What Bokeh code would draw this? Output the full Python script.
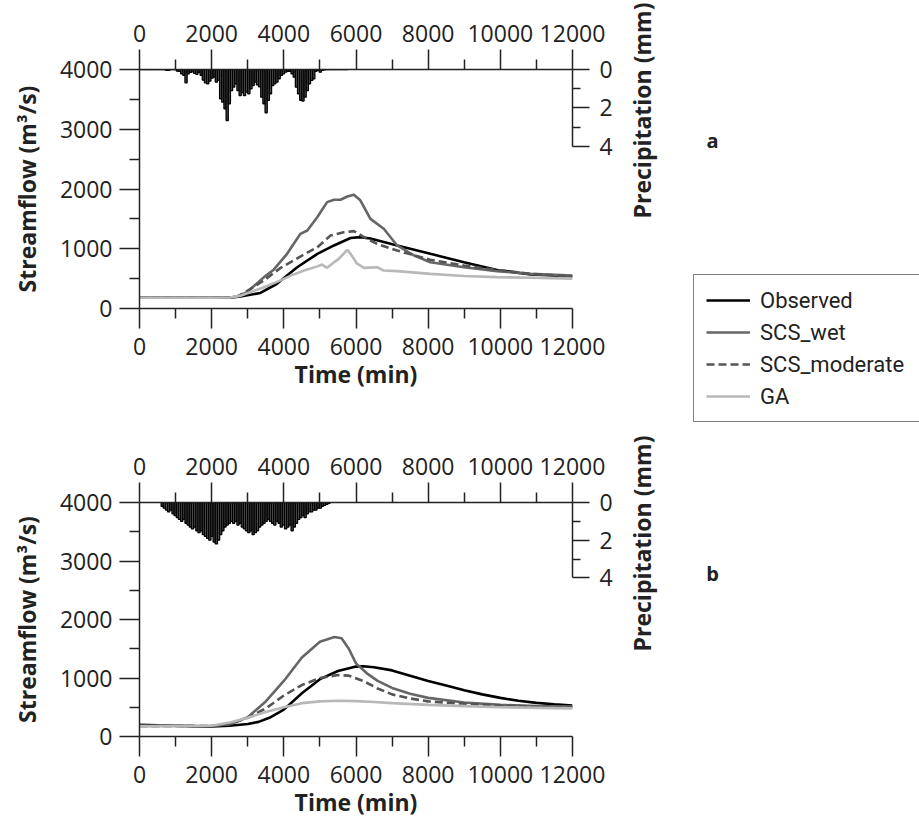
import math
from bokeh.plotting import figure
from bokeh.models import Range1d, LinearAxis, FixedTicker, Legend, LegendItem, Label
from bokeh.layouts import column, row
from bokeh.embed import file_html
from bokeh.resources import INLINE

# ---------------- data ----------------
x_ticks = [0, 2000, 4000, 6000, 8000, 10000, 12000]
x_minor = [1000, 3000, 5000, 7000, 9000, 11000]
q_ticks = [0, 1000, 2000, 3000, 4000]
q_minor = [500, 1500, 2500, 3500]
p_ticks = [0, 2, 4]
p_minor = [1, 3]
series_names = ["Observed", "SCS_wet", "SCS_moderate", "GA"]
panel_letters = ["a", "b"]

# Panel a hydrographs (time in min, flow in m3/s)
obs_a_t = [0, 1000, 2000, 2500, 2800, 3350, 3800, 4370, 4930, 5390, 5850, 6120, 6400, 7140, 8060, 8990, 9910, 10840, 12000]
obs_a_q = [180, 180, 180, 182, 200, 260, 410, 690, 915, 1055, 1180, 1195, 1172, 1055, 915, 775, 645, 570, 540]
wet_a_t = [0, 1000, 2000, 2500, 2700, 2980, 3450, 3720, 4090, 4460, 4650, 4930, 5200, 5390, 5570, 5760, 5940, 6120, 6400, 6770, 7140, 7600, 8060, 8990, 9910, 10840, 12000]
wet_a_q = [180, 180, 180, 185, 200, 275, 525, 650, 915, 1250, 1305, 1530, 1780, 1820, 1820, 1875, 1905, 1810, 1500, 1335, 1055, 890, 775, 690, 625, 580, 550]
mod_a_t = [0, 1000, 2000, 2500, 2700, 2890, 3450, 3910, 4560, 4930, 5290, 5660, 5940, 6220, 6590, 7140, 8060, 8990, 9910, 10840, 12000]
mod_a_q = [180, 180, 180, 185, 200, 255, 470, 680, 905, 1025, 1220, 1275, 1295, 1195, 1080, 970, 815, 720, 645, 580, 535]
ga_a_t = [0, 1000, 2000, 2500, 2800, 3450, 3910, 4190, 4560, 4930, 5060, 5200, 5340, 5520, 5760, 5850, 6030, 6220, 6590, 6770, 7140, 8060, 8990, 9910, 10840, 12000]
ga_a_q = [180, 180, 180, 185, 215, 355, 470, 550, 635, 705, 735, 680, 750, 830, 980, 915, 750, 680, 690, 635, 625, 580, 545, 525, 515, 500]

# Panel b hydrographs
obs_b_t = [0, 500, 1000, 1500, 2000, 2500, 3000, 3300, 3600, 4000, 4500, 5000, 5500, 6000, 6200, 6500, 7000, 7500, 8000, 8500, 9000, 9500, 10000, 10500, 11000, 11500, 12000]
obs_b_q = [200, 190, 185, 178, 172, 185, 215, 250, 320, 460, 740, 980, 1120, 1195, 1200, 1185, 1130, 1040, 950, 870, 790, 720, 660, 610, 575, 550, 530]
wet_b_t = [0, 2000, 2500, 3000, 3500, 4000, 4500, 5000, 5400, 5600, 5800, 6000, 6300, 6600, 7000, 7500, 8000, 9000, 10000, 11000, 12000]
wet_b_q = [180, 180, 210, 330, 600, 950, 1350, 1620, 1700, 1680, 1500, 1250, 1080, 950, 830, 730, 660, 580, 540, 520, 510]
mod_b_t = [0, 2000, 2500, 3000, 3500, 4000, 4500, 5000, 5500, 5800, 6200, 6600, 7000, 7500, 8000, 9000, 10000, 11000, 12000]
mod_b_q = [180, 180, 210, 320, 480, 700, 880, 1000, 1050, 1040, 950, 820, 720, 650, 600, 560, 530, 510, 500]
ga_b_t = [0, 2000, 2500, 3000, 3500, 4000, 4500, 5000, 5500, 6000, 6500, 7000, 8000, 9000, 10000, 11000, 12000]
ga_b_q = [180, 185, 240, 320, 420, 500, 570, 600, 610, 605, 590, 570, 540, 520, 500, 490, 480]

# Hourly precipitation (mm), bar centres every 60 min
precip_a_t = list(range(30, 5760, 60))
precip_a = [0, 0, 0, 0, 0, 0, 0, 0, 0, 0,
            0, 0, 0.05, 0.05, 0, 0, 0, 0.08, 0.1,
            0.22, 0.3, 0.69, 0.22,
            0.15, 0.12, 0.2, 0.25, 0.15,
            0.3, 0.55, 0.7, 0.74, 0.6,
            0.45, 0.4, 0.65, 0.55,
            1.52, 1.7, 2.04, 2.65, 1.78, 1.1,
            0.92, 0.74, 1.1, 1.35,
            1.2, 1.35,
            1.18, 1.26, 1.0, 0.83, 0.66,
            0.8, 0.9,
            1.44, 1.78, 2.25, 1.6,
            1.26, 0.83, 0.74, 0.66,
            0.48, 0.31, 0.22, 0.14, 0.09,
            0.09, 0.22, 0.4,
            0.92, 1.26, 1.6, 1.64, 1.44,
            1.1, 0.74, 0.57, 0.48,
            0.09, 0.05, 0.14, 0.05, 0.02,
            0, 0, 0, 0, 0, 0, 0, 0, 0, 0]
precip_b_t = list(range(630, 5310, 60))
precip_b = [0.2, 0.3, 0.4, 0.5, 0.4, 0.6, 0.7,
            0.8, 0.9, 1.0, 0.9, 1.1, 1.2, 1.3,
            1.4, 1.3, 1.5, 1.6, 1.5, 1.7, 1.8,
            1.9, 2.0, 1.8, 2.1, 2.2, 2.0,
            1.7, 1.5, 1.3, 1.2, 1.1, 1.0,
            1.1, 1.0, 1.2, 1.1, 1.3, 1.4,
            1.5, 1.6, 1.5, 1.7, 1.6, 1.5,
            1.3, 1.2, 1.1, 1.0, 0.9, 1.0,
            1.1, 1.2, 1.0, 1.1, 1.3, 1.2,
            1.4, 1.3, 1.2, 1.5, 1.3, 1.1,
            0.9, 0.8, 0.7, 0.8, 0.6, 0.5,
            0.5, 0.4, 0.4, 0.3, 0.3, 0.2,
            0.15, 0.1, 0.05]

# ---------------- styles ----------------
FONT = "Open Sans"
AX = "#222222"
styles = {
    "Observed": dict(line_color="#000000", line_width=2.6),
    "SCS_wet": dict(line_color="#666666", line_width=2.6),
    "SCS_moderate": dict(line_color="#555555", line_width=2.6, line_dash="8 4"),
    "GA": dict(line_color="#b8b8b8", line_width=2.6),
}


def style_axis(ax, ticks, minor, major_out=20, minor_out=10):
    ax.ticker = FixedTicker(ticks=ticks, minor_ticks=minor)
    ax.axis_line_color = AX
    ax.axis_line_width = 1.5
    ax.major_tick_line_color = AX
    ax.major_tick_line_width = 1.5
    ax.minor_tick_line_color = AX
    ax.minor_tick_line_width = 1.5
    ax.major_tick_in = 0
    ax.major_tick_out = major_out
    ax.minor_tick_in = 0
    ax.minor_tick_out = minor_out
    ax.major_label_text_font = FONT
    ax.major_label_text_font_size = "23px"
    ax.major_label_text_color = AX
    ax.axis_label_text_font = FONT
    ax.axis_label_text_font_size = "23px"
    ax.axis_label_text_font_style = "bold"
    ax.axis_label_text_color = AX


def make_panel(height, bottom, curves, ptime, pvals):
    p = figure(width=620, height=height, x_range=Range1d(0, 12000), y_range=Range1d(0, 4000),
               output_backend="svg", toolbar_location=None,
               min_border_left=139, min_border_right=48, min_border_top=69, min_border_bottom=bottom)
    p.outline_line_color = None
    p.xgrid.visible = False
    p.ygrid.visible = False
    p.extra_y_ranges = {"p": Range1d(start=12.4156, end=0)}

    xb = p.xaxis[0]
    style_axis(xb, x_ticks, x_minor)
    xb.axis_label = "Time (min)"
    xb.major_label_standoff = 9
    xb.axis_label_standoff = 0

    yl = p.yaxis[0]
    style_axis(yl, q_ticks, q_minor)
    yl.axis_label = "Streamflow (m³/s)"
    yl.major_label_standoff = 7
    yl.axis_label_standoff = 14

    xt = LinearAxis()
    style_axis(xt, x_ticks, x_minor)
    xt.major_label_standoff = 8
    p.add_layout(xt, "above")

    yr = LinearAxis(y_range_name="p", bounds=(0, 4))
    style_axis(yr, p_ticks, p_minor, major_out=17, minor_out=8)
    yr.major_label_standoff = 10
    p.add_layout(yr, "right")

    # precipitation bars hanging from the top
    p.vbar(x=ptime, width=60, top=[0] * len(pvals), bottom=pvals, y_range_name="p",
           fill_color="#555555", line_color="black", line_width=1.3)

    for name, (t, q) in curves.items():
        p.line(t, q, **styles[name])
    return p


fa = make_panel(433, 125,
                {"Observed": (obs_a_t, obs_a_q), "SCS_wet": (wet_a_t, wet_a_q),
                 "SCS_moderate": (mod_a_t, mod_a_q), "GA": (ga_a_t, ga_a_q)},
                precip_a_t, precip_a)
fb = make_panel(387, 79,
                {"Observed": (obs_b_t, obs_b_q), "SCS_wet": (wet_b_t, wet_b_q),
                 "SCS_moderate": (mod_b_t, mod_b_q), "GA": (ga_b_t, ga_b_q)},
                precip_b_t, precip_b)

# right-hand strip: precipitation titles, panel letters and the legend (pixel coordinates)
side = figure(width=299, height=820, x_range=Range1d(0, 299), y_range=Range1d(0, 820),
              output_backend="svg", toolbar_location=None, x_axis_location=None, y_axis_location=None,
              min_border=0, min_border_left=0, min_border_right=0, min_border_top=0, min_border_bottom=0)
side.outline_line_color = None
side.xgrid.visible = False
side.ygrid.visible = False

for yc in (710, 277):
    side.add_layout(Label(x=21, y=yc, text="Precipitation (mm)", angle=math.pi / 2,
                          text_font=FONT, text_font_size="23px", text_font_style="bold",
                          text_align="center", text_baseline="middle", text_color=AX))
for letter, yc in zip(panel_letters, (680, 247)):
    side.add_layout(Label(x=92, y=yc, text=letter, text_font=FONT, text_font_size="20px",
                          text_font_style="bold", text_align="center", text_baseline="middle",
                          text_color=AX))

# legend proxies (kept outside the visible strip)
proxies = [side.line(x=[-60, -50], y=[-60, -60], **styles[n]) for n in series_names]
leg = Legend(items=[LegendItem(label=n, renderers=[r]) for n, r in zip(series_names, proxies)],
             location=(73, 398))
leg.label_text_font = "Roboto"
leg.label_text_font_size = "22px"
leg.label_text_color = AX
leg.border_line_color = "black"
leg.border_line_width = 1
leg.padding = 12
leg.spacing = 6
leg.glyph_width = 44
leg.glyph_height = 26
leg.label_height = 26
leg.label_width = 175
leg.label_standoff = 10
side.add_layout(leg, "center")

layout = row(column(fa, fb, spacing=0), side, spacing=0)
open("out.html", "w").write(file_html(layout, INLINE))
